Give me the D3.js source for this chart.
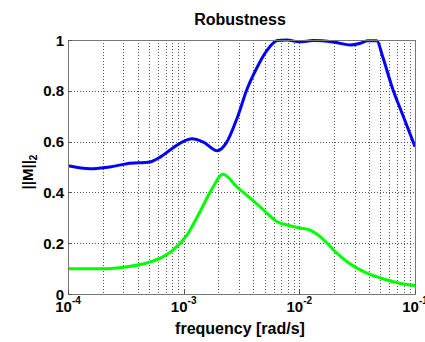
<!doctype html>
<html lang="en">
<head>
<meta charset="UTF-8">
<title>Robustness</title>
<script src="https://cdn.jsdelivr.net/npm/d3@7"></script>
<style>
    body { margin: 0; background: #fff; }
    svg text { font-family: "Liberation Sans", Arial, sans-serif; font-weight: bold; fill: #000; }
</style>
</head>
<body>
<div id="chartDiv"></div>
<script>
// frequency given as log10 exponent
const blueExp = [-4, -3.81, -3.64, -3.49, -3.29, -3.2, -3.09, -2.93, -2.83, -2.71, -2.63, -2.54, -2.45, -2.37, -2.28, -2.19, -2.11, -2.0, -1.88, -1.8, -1.68, -1.56, -1.48, -1.41, -1.33, -1.28, -1.2, -1.1, -1.0]
const blueVal = [0.505, 0.493, 0.5, 0.513, 0.52, 0.54, 0.576, 0.611, 0.598, 0.564, 0.596, 0.69, 0.809, 0.888, 0.959, 0.998, 1.0, 0.993, 0.998, 0.997, 0.99, 0.98, 0.986, 0.997, 0.997, 0.935, 0.817, 0.698, 0.58]

const greenExp = [-4, -3.7, -3.49, -3.32, -3.18, -3.09, -2.97, -2.86, -2.76, -2.66, -2.54, -2.43, -2.31, -2.19, -2.11, -2.0, -1.91, -1.84, -1.76, -1.68, -1.59, -1.42, -1.24, -1.1, -1.0]
const greenVal = [0.099, 0.099, 0.107, 0.122, 0.146, 0.174, 0.233, 0.323, 0.41, 0.471, 0.422, 0.379, 0.331, 0.284, 0.272, 0.26, 0.252, 0.233, 0.2, 0.163, 0.128, 0.083, 0.055, 0.039, 0.033]

const xTickExp = [-4, -3, -2, -1]
const yTicks = [0, 0.2, 0.4, 0.6, 0.8, 1]
const yTickLabels = ['0', '0.2', '0.4', '0.6', '0.8', '1']

const svgWidth = 425, svgHeight = 342
const plotLeft = 68, plotRight = 415, plotTop = 40, plotBottom = 294

const svg = d3.select('#chartDiv').append('svg')
    .attr('width', svgWidth).attr('height', svgHeight)

const x = d3.scaleLog().domain([1e-4, 1e-1]).range([plotLeft, plotRight])
const y = d3.scaleLinear().domain([0, 1]).range([plotBottom, plotTop])

// grid lines (major + minor decades)
let gridX = []
xTickExp.slice(0, -1).forEach(e => {
    for (let m = 1; m < 10; m++) gridX.push(m * Math.pow(10, e))
})
gridX = gridX.filter(f => f > 1e-4)

const grid = svg.append('g').attr('stroke', '#555').attr('stroke-width', 1)
    .attr('stroke-dasharray', '1,2').attr('shape-rendering', 'crispEdges')
grid.selectAll('.gx').data(gridX).join('line')
    .attr('x1', d => Math.round(x(d)) + 0.5).attr('x2', d => Math.round(x(d)) + 0.5)
    .attr('y1', plotTop).attr('y2', plotBottom)
grid.selectAll('.gy').data(yTicks.slice(1, -1)).join('line')
    .attr('y1', d => Math.round(y(d)) + 0.5).attr('y2', d => Math.round(y(d)) + 0.5)
    .attr('x1', plotLeft).attr('x2', plotRight)

// curves
svg.append('clipPath').attr('id', 'plotClip').append('rect')
    .attr('x', plotLeft).attr('y', plotTop - 2).attr('width', plotRight - plotLeft).attr('height', plotBottom - plotTop + 2)

const line = d3.line()
    .x(d => x(Math.pow(10, d[0])))
    .y(d => y(d[1]))
    .curve(d3.curveMonotoneX)

const curves = svg.append('g').attr('clip-path', 'url(#plotClip)')
curves.append('path').datum(greenExp.map((e, i) => [e, greenVal[i]]))
    .attr('d', line).attr('fill', 'none').attr('stroke', '#00ff00').attr('stroke-width', 3)
curves.append('path').datum(blueExp.map((e, i) => [e, blueVal[i]]))
    .attr('d', line).attr('fill', 'none').attr('stroke', '#0000ff').attr('stroke-width', 3)

// box
svg.append('rect').attr('x', plotLeft + 0.5).attr('y', plotTop + 0.5)
    .attr('width', plotRight - plotLeft).attr('height', plotBottom - plotTop)
    .attr('fill', 'none').attr('stroke', '#777').attr('stroke-width', 1)

// ticks
const ticks = svg.append('g').attr('stroke', '#555')
ticks.selectAll('.ty').data(yTicks).join('line')
    .attr('x1', plotLeft).attr('x2', plotLeft + 4)
    .attr('y1', d => Math.round(y(d)) + 0.5).attr('y2', d => Math.round(y(d)) + 0.5)
ticks.selectAll('.tx').data(xTickExp).join('line')
    .attr('y1', plotBottom).attr('y2', plotBottom - 4)
    .attr('x1', d => Math.round(x(Math.pow(10, d))) + 0.5).attr('x2', d => Math.round(x(Math.pow(10, d))) + 0.5)

// y tick labels
svg.selectAll('.ylab').data(yTicks).join('text')
    .attr('x', plotLeft - 4).attr('y', d => y(d) + 5.5)
    .attr('text-anchor', 'end').attr('font-size', 15)
    .text((d, i) => yTickLabels[i])

// x tick labels 10^e
const xl = svg.selectAll('.xlab').data(xTickExp).join('text')
    .attr('x', d => x(Math.pow(10, d))).attr('y', 312)
    .attr('text-anchor', 'middle').attr('font-size', 15)
xl.append('tspan').text('10')
xl.append('tspan').attr('dy', -8).attr('font-size', 10).text(d => '-' + Math.abs(d))

// title and axis labels
svg.append('text').attr('x', 240).attr('y', 25).attr('text-anchor', 'middle')
    .attr('font-size', 16).text('Robustness')
svg.append('text').attr('x', 240).attr('y', 334).attr('text-anchor', 'middle')
    .attr('font-size', 16).text('frequency [rad/s]')

const yl = svg.append('text').attr('transform', 'translate(33,172) rotate(-90)')
    .attr('text-anchor', 'middle').attr('font-size', 15)
yl.append('tspan').text('||M||')
yl.append('tspan').attr('dy', 4).attr('font-size', 10).text('2')
</script>
</body>
</html>
